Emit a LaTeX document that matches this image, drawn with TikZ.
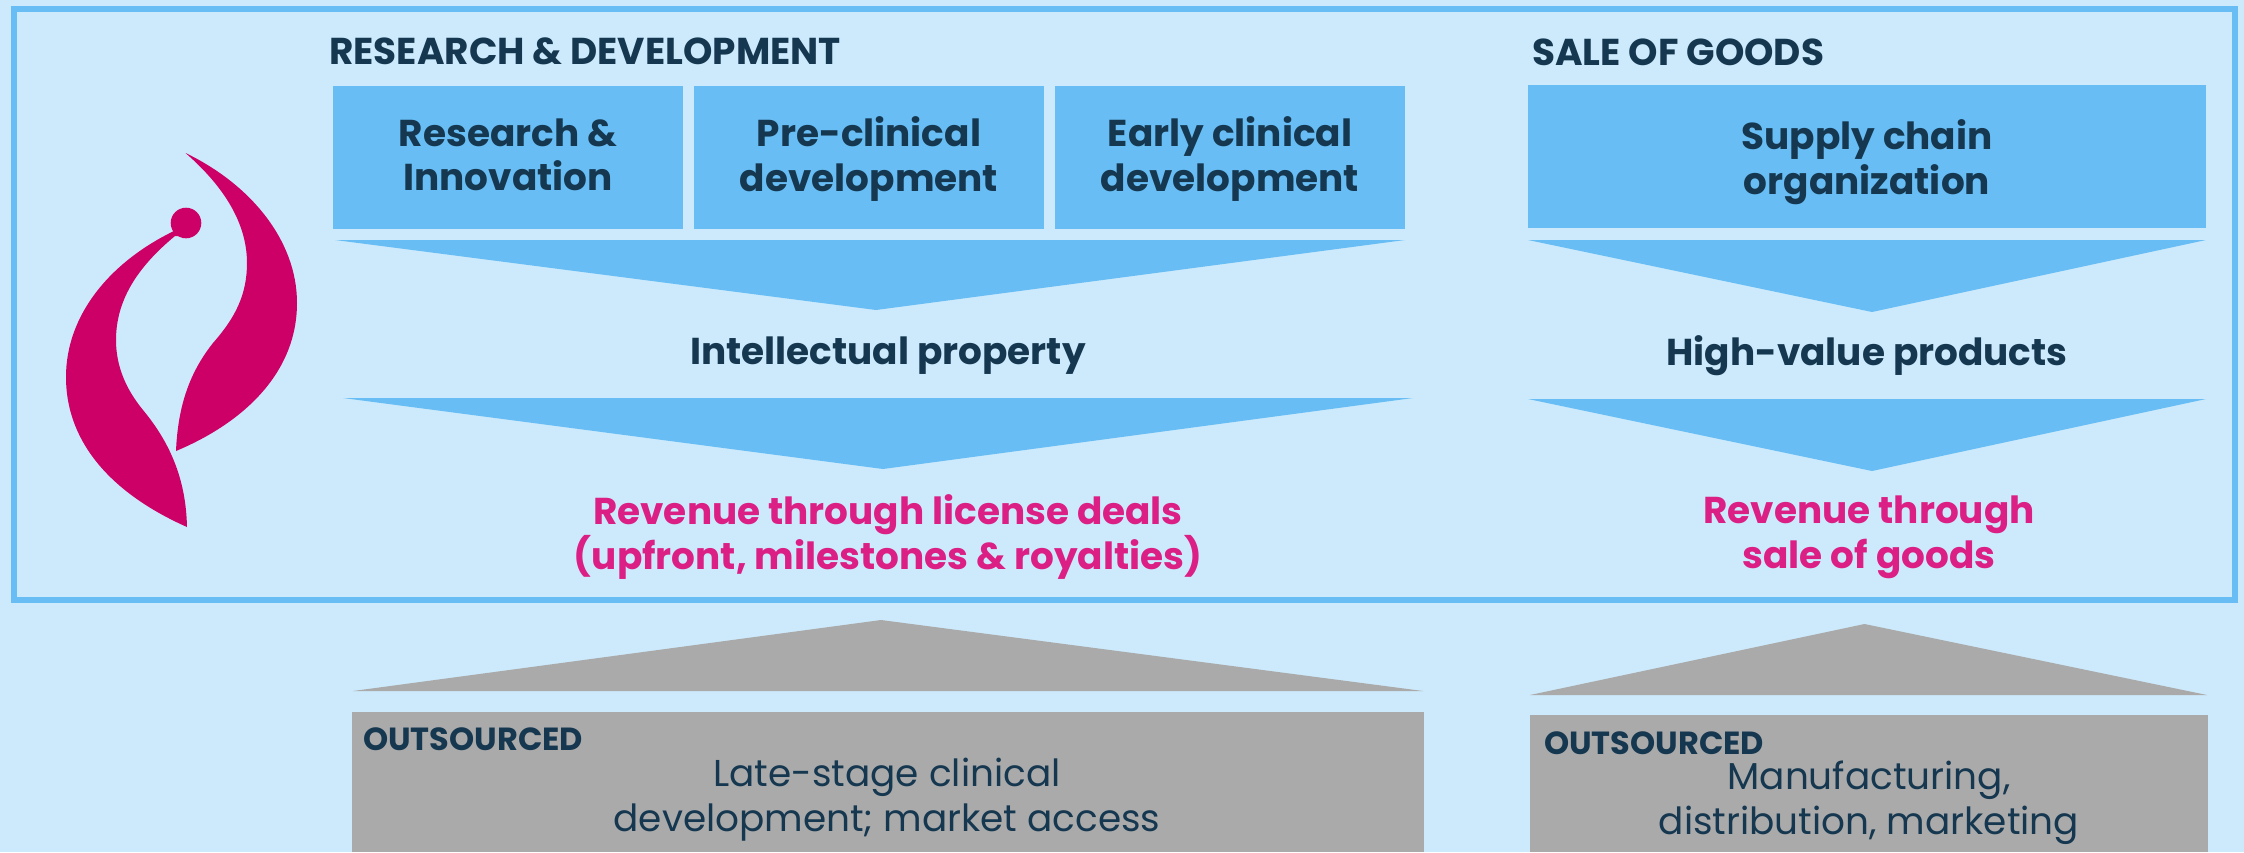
\documentclass[tikz,border=0pt]{standalone}
\usepackage{fontspec}
\setmainfont{Poppins}
\newfontfamily\xbold{Poppins}[UprightFont={* Bold}]
\definecolor{bgc}{HTML}{CCEAFC}
\definecolor{blu}{HTML}{67BDF4}
\definecolor{navy}{HTML}{15374F}
\definecolor{pnk}{HTML}{DB1F85}
\definecolor{logoc}{HTML}{CC0066}
\definecolor{gry}{HTML}{AAAAAA}
\tikzset{
  bluebox/.style={fill=blu,draw=none,inner sep=0pt,anchor=north west},
  greybox/.style={fill=gry,draw=none,inner sep=0pt,anchor=north west},
  heading/.style={text=navy,font=\fontsize{37.4}{44}\selectfont\xbold,inner sep=0pt,anchor=west},
  boxtext/.style={text=navy,font=\fontsize{37.4}{44.5}\selectfont\xbold,align=center,inner sep=0pt},
  revtext/.style={text=pnk,font=\fontsize{37.4}{45}\selectfont\xbold,align=center,inner sep=0pt},
  outtag/.style={text=navy,font=\fontsize{32}{34}\selectfont\xbold,inner sep=0pt,anchor=west},
  outtext/.style={text=navy,font=\fontsize{37.4}{45}\selectfont,align=center,inner sep=0pt},
}
\begin{document}
\begin{tikzpicture}[x=1pt,y=-1pt]
\useasboundingbox (0,0) rectangle (2244,852);
\fill[bgc] (0,0) rectangle (2244,852);
\draw[blu,line width=6pt] (14,9) rectangle (2235,600);
% logo
\fill[logoc] (185.5,153) .. controls (250,184) and (297,240) .. (297,303)
  .. controls (297,372) and (245,422) .. (176,451)
  .. controls (178,405) and (190,372) .. (213,343)
  .. controls (235,318) and (247,295) .. (247,263)
  .. controls (247,220) and (220,183) .. (185.5,153) -- cycle;
\fill[logoc] (174,231) .. controls (110,262) and (66,315) .. (66,377)
  .. controls (66,445) and (115,495) .. (187,527)
  .. controls (186,482) and (172,445) .. (143,410)
  .. controls (125,388) and (116,365) .. (116,340)
  .. controls (116,298) and (140,265) .. (175,236)
  -- (181,236) -- cycle;
\node[circle,fill=logoc,minimum size=30.6pt,inner sep=0pt] (dot) at (186,223) {};
% headings
\node[heading] (h1) at (329,51) {RESEARCH \& DEVELOPMENT};
\node[heading] (h2) at (1532,52) {SALE OF GOODS};
% blue boxes
\node[bluebox,minimum width=350pt,minimum height=143pt] (b1) at (333,86) {};
\node[bluebox,minimum width=350pt,minimum height=143pt] (b2) at (694,86) {};
\node[bluebox,minimum width=350pt,minimum height=143pt] (b3) at (1055,86) {};
\node[bluebox,minimum width=678pt,minimum height=143pt] (b4) at (1528,85) {};
\node[boxtext] (t1) at (508,155) {Research \&\\Innovation};
\node[boxtext] (t2) at (869,159) {Pre-clinical\\development};
\node[boxtext] (t3) at (1230,159) {Early clinical\\development};
\node[boxtext] (t4) at (1867,162) {Supply chain\\organization};
% blue arrows
\fill[blu] (335,240) -- (1405,240) -- (876,310) -- cycle;
\fill[blu] (1528,240) -- (2206,240) -- (1872,312) -- cycle;
\fill[blu] (343,398) -- (1413,398) -- (883,469) -- cycle;
\fill[blu] (1528,399) -- (2206,399) -- (1872,471) -- cycle;
% mid labels
\node[boxtext] (ip) at (888,356) {Intellectual property};
\node[boxtext] (hv) at (1867,356) {High-value products};
\node[revtext] (r1) at (888,537) {Revenue through license deals\\(upfront, milestones \& royalties)};
\node[revtext] (r2) at (1869,537) {Revenue through\\sale of goods};
% grey arrows
\fill[gry] (353,691) -- (1423,691) -- (881,620) -- cycle;
\fill[gry] (1530,695) -- (2207,695) -- (1864.5,624) -- cycle;
% grey boxes
\node[greybox,minimum width=1072pt,minimum height=140pt] (g1) at (352,712) {};
\node[greybox,minimum width=678pt,minimum height=137pt] (g2) at (1530,715) {};
\node[outtag] (o1) at (363,739) {OUTSOURCED};
\node[outtag] (o2) at (1544,743) {OUTSOURCED};
\node[outtext] (l1) at (887,800) {Late-stage clinical\\development; market access};
\node[outtext] (l2) at (1869,803) {Manufacturing,\\distribution, marketing};
\end{tikzpicture}
\end{document}
